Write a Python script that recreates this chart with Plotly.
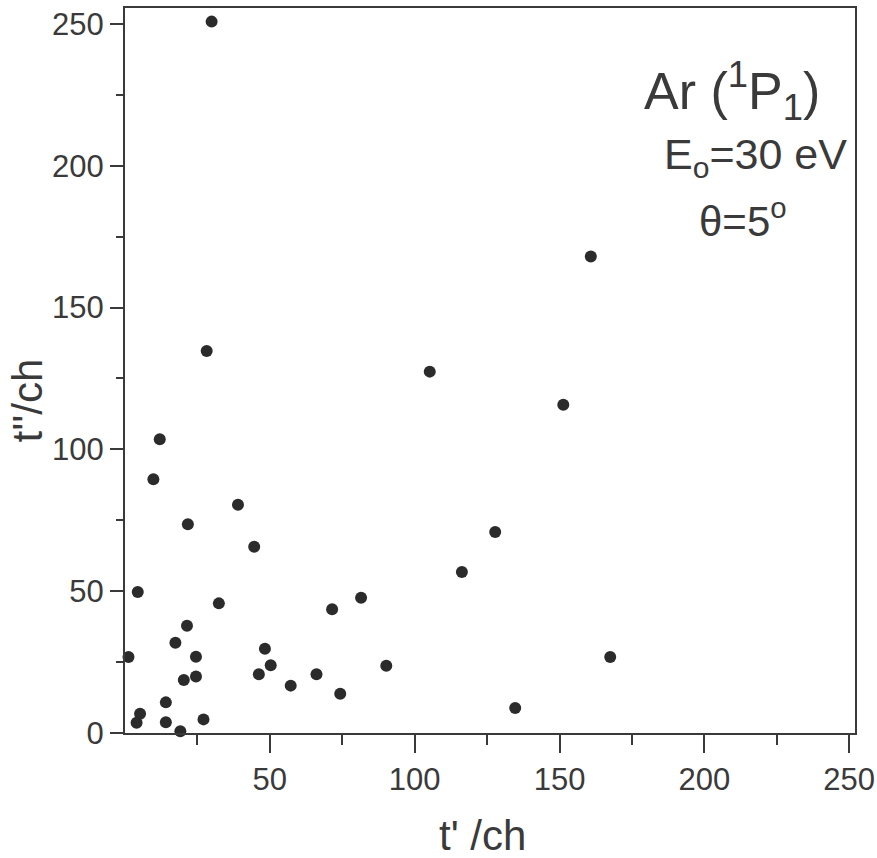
import plotly.graph_objects as go

t1 = [29.9, 28.2, 105.2, 160.8, 151.3, 12.0, 9.8, 39.0, 21.7, 44.6, 127.8, 116.3,
      4.4, 81.5, 71.5, 32.4, 21.4, 17.4, 48.3, 24.5, 1.2, 167.5, 50.3, 90.2, 46.2,
      66.1, 24.5, 20.3, 57.2, 74.3, 14.1, 134.7, 5.2, 4.0, 14.1, 27.1, 19.1]
t2 = [250.8, 134.7, 127.4, 168.0, 115.7, 103.6, 89.5, 80.5, 73.6, 65.7, 70.9, 56.8,
      49.7, 47.7, 43.6, 45.7, 37.8, 31.8, 29.7, 26.9, 26.8, 26.8, 23.9, 23.7, 20.7,
      20.7, 19.9, 18.7, 16.7, 13.8, 10.8, 8.8, 6.8, 3.6, 3.8, 4.8, 0.6]

x_ticks = [50, 100, 150, 200, 250]
x_minor = [25, 75, 125, 175, 225]
y_ticks = [0, 50, 100, 150, 200, 250]
y_minor = [25, 75, 125, 175, 225]

FONT = "Liberation Sans, Arial, sans-serif"
INK = "#3a3a3a"

fig = go.Figure()
fig.add_trace(go.Scatter(
    x=t1, y=t2, mode="markers",
    marker=dict(size=12, color="#2b2b2b", line=dict(width=0)),
    cliponaxis=False, showlegend=False,
))

axis_common = dict(
    showline=True, linewidth=2, linecolor=INK, mirror=True,
    ticks="outside", tickwidth=2, tickcolor=INK,
    showgrid=False, zeroline=False, automargin=False,
    tickfont=dict(family=FONT, size=31, color=INK),
)

fig.update_xaxes(
    range=[0, 252], tickmode="array", tickvals=x_ticks, ticklen=18,
    minor=dict(tickmode="array", tickvals=x_minor, ticklen=10, ticks="outside",
               tickwidth=2, tickcolor=INK),
    **axis_common,
)
fig.update_yaxes(
    range=[0, 255.6], tickmode="array", tickvals=y_ticks, ticklen=13,
    minor=dict(tickmode="array", tickvals=y_minor, ticklen=7, ticks="outside",
               tickwidth=2, tickcolor=INK),
    **axis_common,
)

# axis titles
fig.add_annotation(xref="paper", yref="paper", x=0.49, y=-0.142,
                   xanchor="center", yanchor="middle", showarrow=False,
                   text="t' /ch", font=dict(family=FONT, size=42, color=INK))
fig.add_annotation(xref="paper", yref="paper", x=-0.134, y=0.459,
                   xanchor="center", yanchor="middle", showarrow=False, textangle=-90,
                   text="t''/ch", font=dict(family=FONT, size=42, color=INK))

fig.add_annotation(xref="paper", yref="paper", x=0.955, y=0.885,
                   xanchor="right", yanchor="middle", showarrow=False,
                   text="Ar (<sup>1</sup>P<sub>1</sub>)",
                   font=dict(family=FONT, size=52, color=INK))
fig.add_annotation(xref="paper", yref="paper", x=0.992, y=0.795,
                   xanchor="right", yanchor="middle", showarrow=False,
                   text="E<sub>o</sub>=30 eV",
                   font=dict(family=FONT, size=43, color=INK))
fig.add_annotation(xref="paper", yref="paper", x=0.847, y=0.71,
                   xanchor="center", yanchor="middle", showarrow=False,
                   text="θ=5<sup>o</sup>",
                   font=dict(family=FONT, size=42, color=INK))

fig.update_layout(
    width=877, height=858,
    margin=dict(l=125, r=22, t=8, b=125),
    paper_bgcolor="white", plot_bgcolor="white",
)

fig.write_html("out.html", config={"displayModeBar": False},
               post_script="document.body.style.margin='0';")
